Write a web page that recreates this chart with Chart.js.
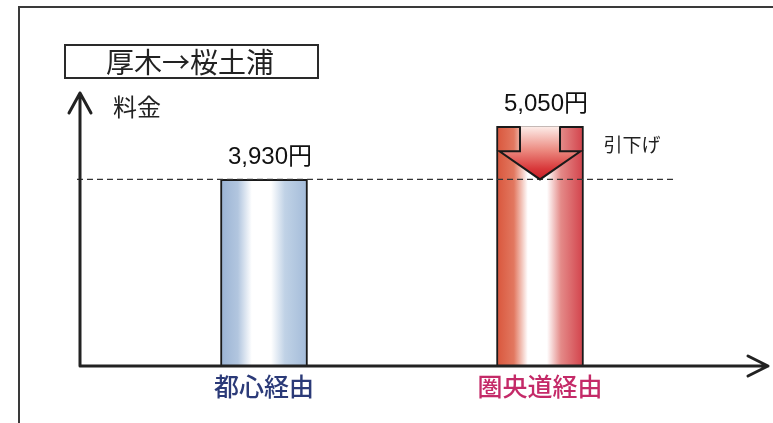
<!DOCTYPE html>
<html><head><meta charset="utf-8">
<script src="https://cdn.jsdelivr.net/npm/chart.js@4/dist/chart.umd.min.js"></script>
<style>html,body{margin:0;padding:0;background:#fff;} canvas{display:block;}</style>
</head><body>
<canvas id="c" width="773" height="423"></canvas>
<script>
// ---- data ----
const chartTitle = '厚木→桜土浦';
const yAxisLabel = '料金';
const categories = ['都心経由', '圏央道経由'];
const fares = [3930, 5050];
const unit = '円';
const reductionLabel = '引下げ';
const yMin = 0;
const yMax = 5750;

// ---- styles ----
const JP = '"Noto Sans CJK JP", sans-serif';
const NUM = '"Liberation Sans", "Noto Sans CJK JP", sans-serif';
const labelColors = ['#2b3a78', '#c42a68'];
const BAR_W = 87;

function barGradient(ctx) {
  const chart = ctx.chart;
  const xs = chart.scales && chart.scales.x;
  const i = ctx.dataIndex;
  if (!xs || xs.left === undefined || i === undefined) return i === 1 ? '#d9553f' : '#a9c0dc';
  const cx = xs.getPixelForValue(i);
  const g = chart.ctx.createLinearGradient(cx - BAR_W / 2, 0, cx + BAR_W / 2, 0);
  if (i === 0) {
    g.addColorStop(0, '#9ab3d4');
    g.addColorStop(0.2, '#b2c6df');
    g.addColorStop(0.36, '#ffffff');
    g.addColorStop(0.58, '#ffffff');
    g.addColorStop(0.74, '#c0d2e6');
    g.addColorStop(1, '#a3bbd9');
  } else {
    g.addColorStop(0, '#d9563c');
    g.addColorStop(0.2, '#e27860');
    g.addColorStop(0.36, '#ffffff');
    g.addColorStop(0.58, '#ffffff');
    g.addColorStop(0.74, '#e48a88');
    g.addColorStop(1, '#d2414a');
  }
  return g;
}

const deco = {
  id: 'deco',
  beforeDraw(chart) {
    const c = chart.ctx;
    c.save();
    c.fillStyle = '#fff';
    c.fillRect(0, 0, chart.width, chart.height);
    c.strokeStyle = '#3a3a3a';
    c.lineWidth = 2;
    c.beginPath();
    c.moveTo(19, chart.height);
    c.lineTo(19, 7);
    c.lineTo(chart.width, 7);
    c.stroke();
    c.strokeStyle = '#2a2a2a';
    c.strokeRect(65, 45, 253, 33);
    c.fillStyle = '#222';
    c.font = '28px ' + JP;
    c.textAlign = 'center';
    c.textBaseline = 'middle';
    c.fillText(chartTitle, 190, 62);
    c.restore();
  },
  afterDatasetsDraw(chart) {
    const c = chart.ctx, ys = chart.scales.y, a = chart.chartArea;
    const axX = a.left - 46, axY = a.bottom;
    const meta = chart.getDatasetMeta(0);
    c.save();
    // dashed reference line at the lower fare
    const yRef = ys.getPixelForValue(fares[0]);
    c.strokeStyle = '#333';
    c.lineWidth = 1.3;
    c.setLineDash([6, 4]);
    c.beginPath();
    c.moveTo(axX - 3, yRef);
    c.lineTo(675, yRef);
    c.stroke();
    c.setLineDash([]);

    // reduction arrow inside the higher bar
    const bar = meta.data[1];
    const top = bar.y, tip = yRef;
    const hw = bar.width / 2, sh = hw * 0.46, hh = hw - 3;
    const mid = top + (tip - top) * 0.47;
    const cx = bar.x;
    const g = c.createLinearGradient(0, top, 0, tip);
    g.addColorStop(0, '#fdeeea');
    g.addColorStop(0.45, '#ec8a80');
    g.addColorStop(0.8, '#d8383a');
    g.addColorStop(1, '#c81e28');
    c.beginPath();
    c.moveTo(cx - sh, top);
    c.lineTo(cx - sh, mid);
    c.lineTo(cx - hh, mid);
    c.lineTo(cx, tip);
    c.lineTo(cx + hh, mid);
    c.lineTo(cx + sh, mid);
    c.lineTo(cx + sh, top);
    c.fillStyle = g;
    c.fill();
    c.strokeStyle = '#1a1a1a';
    c.lineWidth = 2;
    c.lineJoin = 'miter';
    c.stroke();

    c.fillStyle = '#222';
    c.font = '19px ' + JP;
    c.textAlign = 'left';
    c.textBaseline = 'middle';
    c.fillText(reductionLabel, cx + hw + 20, mid - 6);

    // value labels
    c.font = '24px ' + NUM;
    c.textAlign = 'center';
    c.fillStyle = '#111';
    meta.data.forEach((el, i) => {
      c.fillText(fares[i].toLocaleString('en-US') + unit, el.x + 6, el.y - 22);
    });

    // axes with arrowheads
    c.strokeStyle = '#222';
    c.lineWidth = 3;
    c.lineCap = 'round';
    c.lineJoin = 'round';
    c.beginPath();
    c.moveTo(axX, axY);
    c.lineTo(axX, a.top);
    c.moveTo(axX, axY);
    c.lineTo(768, axY);
    c.moveTo(axX - 11, a.top + 20);
    c.lineTo(axX, a.top);
    c.lineTo(axX + 11, a.top + 20);
    c.moveTo(748, axY - 10);
    c.lineTo(768, axY);
    c.lineTo(748, axY + 10);
    c.stroke();

    c.fillStyle = '#222';
    c.font = '24px ' + JP;
    c.textAlign = 'left';
    c.fillText(yAxisLabel, axX + 33, a.top + 14);
    c.restore();
  }
};

new Chart(document.getElementById('c'), {
  type: 'bar',
  data: {
    labels: categories,
    datasets: [{
      data: fares,
      backgroundColor: barGradient,
      borderColor: '#1a1a1a',
      borderWidth: 2,
      borderSkipped: 'bottom',
      barThickness: BAR_W
    }]
  },
  options: {
    responsive: false,
    devicePixelRatio: 1,
    animation: false,
    layout: { padding: { left: 126, right: 95, top: 93, bottom: 17 } },
    plugins: { legend: { display: false }, tooltip: { enabled: false }, title: { display: false } },
    scales: {
      x: {
        grid: { display: false, drawTicks: false },
        border: { display: false },
        ticks: {
          color: (ctx) => labelColors[ctx.index],
          font: { family: JP, size: 25, weight: '500' },
          padding: 5
        }
      },
      y: { display: false, min: yMin, max: yMax }
    }
  },
  plugins: [deco]
});
</script>
</body></html>
